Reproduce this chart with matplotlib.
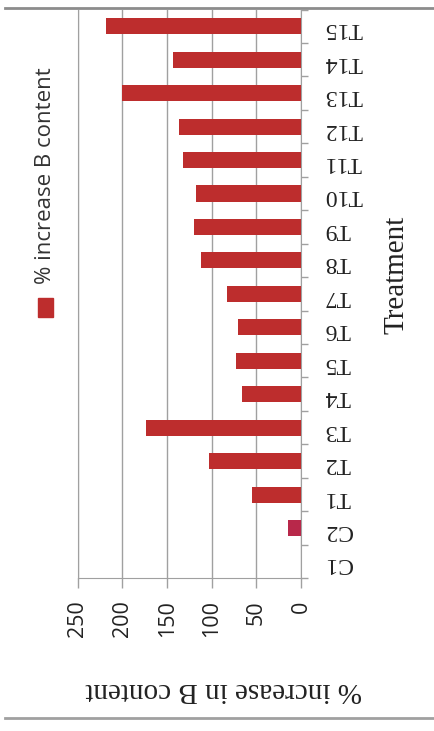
import matplotlib.pyplot as plt
import numpy as np
from matplotlib.lines import Line2D
from matplotlib.patches import Rectangle

# % increase in boron content per treatment
treatments = ["C1", "C2", "T1", "T2", "T3", "T4", "T5", "T6", "T7",
              "T8", "T9", "T10", "T11", "T12", "T13", "T14", "T15"]
increase = [0, 15, 55, 103, 174, 66, 73, 71, 83,
            112, 120, 118, 132, 137, 200, 143, 218]
bar_colors = ["#bd2d2d", "#b8284a"] + ["#bd2d2d"] * 15

value_ticks = [0, 50, 100, 150, 200, 250]

serif = "Liberation Serif"
sans = "Open Sans"
grey = "#a0a0a0"

fig = plt.figure(figsize=(4.35, 7.31), dpi=100)
ax = fig.add_axes([0.179, 0.209, 0.513, 0.778])

pos = np.arange(len(treatments))
ax.barh(pos, increase, height=0.48, color=bar_colors, zorder=3)

ax.set_xlim(250, 0)
ax.set_ylim(-0.5, len(treatments) - 0.5)

# value axis (drawn at the bottom, labels turned on their side)
ax.set_xticks(value_ticks)
ax.set_xticklabels([str(v) for v in value_ticks], fontfamily=sans, fontsize=15.5)
ax.tick_params(axis="x", labelrotation=90, length=7, width=1, color=grey,
               direction="out", pad=9, labelcolor="#222222")
ax.grid(axis="x", color=grey, linewidth=1, zorder=0)

# category axis on the right, labels upside down
ax.yaxis.tick_right()
ax.set_yticks(pos)
ax.set_yticklabels(treatments, fontfamily=serif, fontsize=17, rotation=180)
ax.tick_params(axis="y", which="major", length=0, pad=17, labelcolor="#222222")
ax.set_yticks(np.arange(-0.5, len(treatments), 1.0), minor=True)
ax.tick_params(axis="y", which="minor", length=5, width=1, color=grey, direction="out")

ax.spines["top"].set_visible(False)
for side in ["left", "right", "bottom"]:
    ax.spines[side].set_color(grey)

# axis titles
fig.text(224 / 435, 1 - 690 / 731, "% increase in B content", rotation=180,
         fontfamily=serif, fontsize=21, ha="center", va="center", color="#222222")
fig.text(397 / 435, 1 - 275 / 731, "Treatment", rotation=90,
         fontfamily=serif, fontsize=21, ha="center", va="center", color="#222222")

# legend
fig.patches.append(Rectangle((38 / 435, 1 - 317 / 731), 15 / 435, 19 / 731,
                             transform=fig.transFigure, color="#bd2d2d"))
fig.text(46 / 435, 1 - 176 / 731, "% increase B content", rotation=90,
         fontfamily=sans, fontsize=16, ha="center", va="center", color="#333333")

# page rules above and below
fig.lines.append(Line2D([5 / 435, 1], [1 - 8 / 731] * 2, transform=fig.transFigure,
                        color="#8c8c8c", linewidth=2))
fig.lines.append(Line2D([5 / 435, 1], [1 - 718 / 731] * 2, transform=fig.transFigure,
                        color="#a0a0a0", linewidth=2))

fig.savefig("out.png", dpi=100)
